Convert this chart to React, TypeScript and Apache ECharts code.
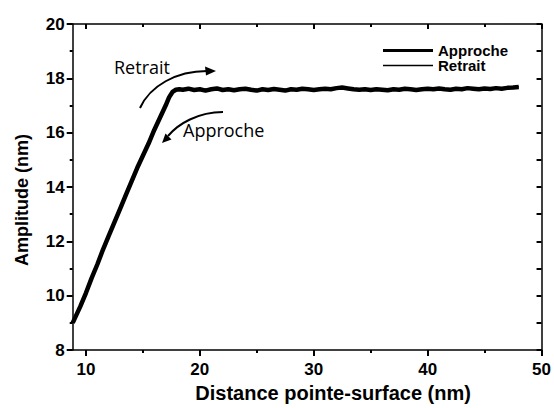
import React, { useEffect, useRef } from "react";
import * as echarts from "echarts";

const X_MIN = 8.84;
const X_MAX = 50;
const xMajorTicks = [10, 20, 30, 40, 50];
const xMinorTicks = [15, 25, 35, 45];

const riseX = [8.84, 9.5, 10, 10.5, 11, 11.5, 12, 12.5, 13, 13.5, 14, 14.5, 15, 15.5, 16, 16.5, 17, 17.3, 17.6, 17.9, 18.2];
const approcheRiseY = [9.0, 9.6, 10.1, 10.65, 11.15, 11.7, 12.2, 12.7, 13.2, 13.7, 14.2, 14.7, 15.15, 15.6, 16.1, 16.55, 17.0, 17.3, 17.5, 17.58, 17.6];
const retraitRiseY = [9.02, 9.62, 10.12, 10.66, 11.17, 11.71, 12.21, 12.72, 13.2, 13.72, 14.21, 14.7, 15.17, 15.62, 16.12, 16.57, 17.02, 17.32, 17.52, 17.6, 17.62];

const plateauX = [
  18.5, 19, 19.5, 20, 20.5, 21, 21.5, 22, 22.5, 23, 23.5, 24, 24.5, 25, 25.5, 26, 26.5, 27, 27.5, 28,
  28.5, 29, 29.5, 30, 30.5, 31, 31.5, 32, 32.5, 33, 33.5, 34, 34.5, 35, 35.5, 36, 36.5, 37, 37.5, 38,
  38.5, 39, 39.5, 40, 40.5, 41, 41.5, 42, 42.5, 43, 43.5, 44, 44.5, 45, 45.5, 46, 46.5, 47, 47.5, 48,
];
const approchePlateauY = [
  17.58, 17.62, 17.57, 17.6, 17.55, 17.6, 17.63, 17.57, 17.6, 17.56, 17.6, 17.62, 17.58, 17.55, 17.6, 17.57, 17.61, 17.58, 17.55, 17.6,
  17.58, 17.62, 17.6, 17.57, 17.6, 17.62, 17.6, 17.64, 17.66, 17.63, 17.6, 17.58, 17.6, 17.57, 17.6, 17.58, 17.56, 17.6, 17.58, 17.62,
  17.6, 17.57, 17.6, 17.62, 17.6, 17.63, 17.6, 17.58, 17.62, 17.6, 17.64, 17.62, 17.6, 17.63, 17.61, 17.64, 17.62, 17.65, 17.66, 17.68,
];
const retraitPlateauY = [
  17.6, 17.59, 17.62, 17.57, 17.6, 17.58, 17.61, 17.6, 17.56, 17.6, 17.63, 17.58, 17.6, 17.58, 17.57, 17.61, 17.58, 17.6, 17.58, 17.57,
  17.61, 17.59, 17.62, 17.6, 17.58, 17.61, 17.63, 17.62, 17.64, 17.65, 17.61, 17.6, 17.57, 17.6, 17.58, 17.6, 17.59, 17.57, 17.61, 17.6,
  17.62, 17.6, 17.58, 17.61, 17.63, 17.61, 17.62, 17.6, 17.6, 17.63, 17.62, 17.64, 17.61, 17.62, 17.64, 17.62, 17.65, 17.64, 17.67, 17.69,
];

const approcheX = [...riseX, ...plateauX];
const approcheY = [...approcheRiseY, ...approchePlateauY];
const retraitX = [...riseX, ...plateauX];
const retraitY = [...retraitRiseY, ...retraitPlateauY];

const seriesNames = ["Approche", "Retrait"];

const LABEL_FONT = "'Liberation Sans', Arial, sans-serif";
const ANNOT_FONT = "'Open Sans', 'Noto Sans', sans-serif";
const TICK_COLOR = "black";

export default function App() {
  const ref = useRef<HTMLDivElement>(null);

  useEffect(() => {
    if (!ref.current) return;
    const chart = echarts.init(ref.current, null, { renderer: "svg" });

    const pair = (xs: number[], ys: number[]) => xs.map((x, i) => [x, ys[i]]);
    const tick = (len: number, inside: boolean, custom?: number[]) => ({
      show: true,
      inside,
      length: len,
      ...(custom ? { customValues: custom } : {}),
      lineStyle: { color: TICK_COLOR, width: 2 },
    });
    const baseX = { type: "value", min: X_MIN, max: X_MAX, splitLine: { show: false } };
    const axisLineOn = { show: true, onZero: false, lineStyle: { color: "#000", width: 1.5 } };

    const option: any = {
      animation: false,
      backgroundColor: "#fff",
      grid: { left: 72.7, right: 10.7, top: 24, bottom: 52 },
      legend: {
        orient: "vertical",
        left: 378,
        top: 38,
        itemWidth: 50,
        itemHeight: 14,
        itemGap: 0,
        data: [
          { name: seriesNames[0], icon: "path://M0,0M0,5.5H50V8.5H0ZM50,14" },
          { name: seriesNames[1], icon: "path://M0,0M0,6.25H50V7.75H0ZM50,14" },
        ],
        textStyle: { fontFamily: LABEL_FONT, fontWeight: "bold", fontSize: 15, color: "#000" },
      },
      xAxis: [
        {
          ...baseX,
          position: "bottom",
          name: "Distance pointe-surface (nm)",
          nameLocation: "middle",
          nameGap: 31,
          nameTextStyle: { fontFamily: LABEL_FONT, fontWeight: "bold", fontSize: 20, color: "#000", padding: [0, 0, 0, 52] },
          axisLine: axisLineOn,
          axisTick: tick(6, false, xMajorTicks),
          axisLabel: { customValues: xMajorTicks, margin: 11, fontFamily: LABEL_FONT, fontWeight: "bold", fontSize: 17, color: "#000" },
        },
        {
          ...baseX,
          position: "bottom",
          offset: 0,
          axisLine: { show: false, onZero: false },
          axisTick: tick(3, false, xMinorTicks),
          axisLabel: { show: false },
        },
        {
          ...baseX,
          position: "top",
          axisLine: axisLineOn,
          axisTick: tick(5, true, xMajorTicks),
          axisLabel: { show: false },
        },
        {
          ...baseX,
          position: "top",
          offset: 0,
          axisLine: { show: false, onZero: false },
          axisTick: tick(3, true, xMinorTicks),
          axisLabel: { show: false },
        },
      ],
      yAxis: [
        {
          type: "value",
          position: "left",
          min: 8,
          max: 20,
          interval: 2,
          name: "Amplitude (nm)",
          nameLocation: "middle",
          nameGap: 42,
          nameTextStyle: { fontFamily: LABEL_FONT, fontWeight: "bold", fontSize: 18, color: "#000", padding: [0, 26, 0, 0] },
          splitLine: { show: false },
          axisLine: axisLineOn,
          axisTick: tick(6, false),
          minorTick: { show: true, splitNumber: 2, length: 3, lineStyle: { color: TICK_COLOR, width: 2 } },
          axisLabel: { margin: 8, fontFamily: LABEL_FONT, fontWeight: "bold", fontSize: 17, color: "#000" },
        },
        {
          type: "value",
          position: "right",
          min: 8,
          max: 20,
          interval: 1,
          splitLine: { show: false },
          axisLine: axisLineOn,
          axisTick: tick(5, true),
          axisLabel: { show: false },
        },
      ],
      series: [
        {
          name: "Approche",
          type: "line",
          xAxisIndex: 0,
          yAxisIndex: 0,
          data: pair(approcheX, approcheY),
          symbol: "none",
          lineStyle: { color: "#000", width: 4.5 },
          itemStyle: { color: "#000" },
        },
        {
          name: "Retrait",
          type: "line",
          xAxisIndex: 0,
          yAxisIndex: 0,
          data: pair(retraitX, retraitY),
          symbol: "none",
          lineStyle: { color: "#000", width: 1.5 },
          itemStyle: { color: "#000" },
        },
      ],
      graphic: [
        {
          type: "text",
          left: 114,
          top: 58,
          style: { text: "Retrait", fontFamily: ANNOT_FONT, fontSize: 18, fill: "#000" },
        },
        {
          type: "bezierCurve",
          shape: { x1: 140, y1: 108, cpx1: 150, cpy1: 86, cpx2: 176, cpy2: 71, x2: 207, y2: 71 },
          style: { stroke: "#000", lineWidth: 2, fill: null },
        },
        {
          type: "polygon",
          shape: { points: [[216, 71], [205, 66.5], [206, 75.5]] },
          style: { fill: "#000" },
        },
        {
          type: "text",
          left: 183,
          top: 121,
          style: { text: "Approche", fontFamily: ANNOT_FONT, fontSize: 18, fill: "#000" },
        },
        {
          type: "bezierCurve",
          shape: { x1: 223, y1: 112, cpx1: 198, cpy1: 112, cpx2: 178, cpy2: 124, x2: 168, y2: 136 },
          style: { stroke: "#000", lineWidth: 2, fill: null },
        },
        {
          type: "polygon",
          shape: { points: [[162, 143], [171.5, 139.5], [165.5, 133.5]] },
          style: { fill: "#000" },
        },
      ],
    };

    chart.setOption(option);
    return () => chart.dispose();
  }, []);

  return <div ref={ref} style={{ width: 554, height: 408, position: "absolute", left: 0, top: 0 }} />;
}
